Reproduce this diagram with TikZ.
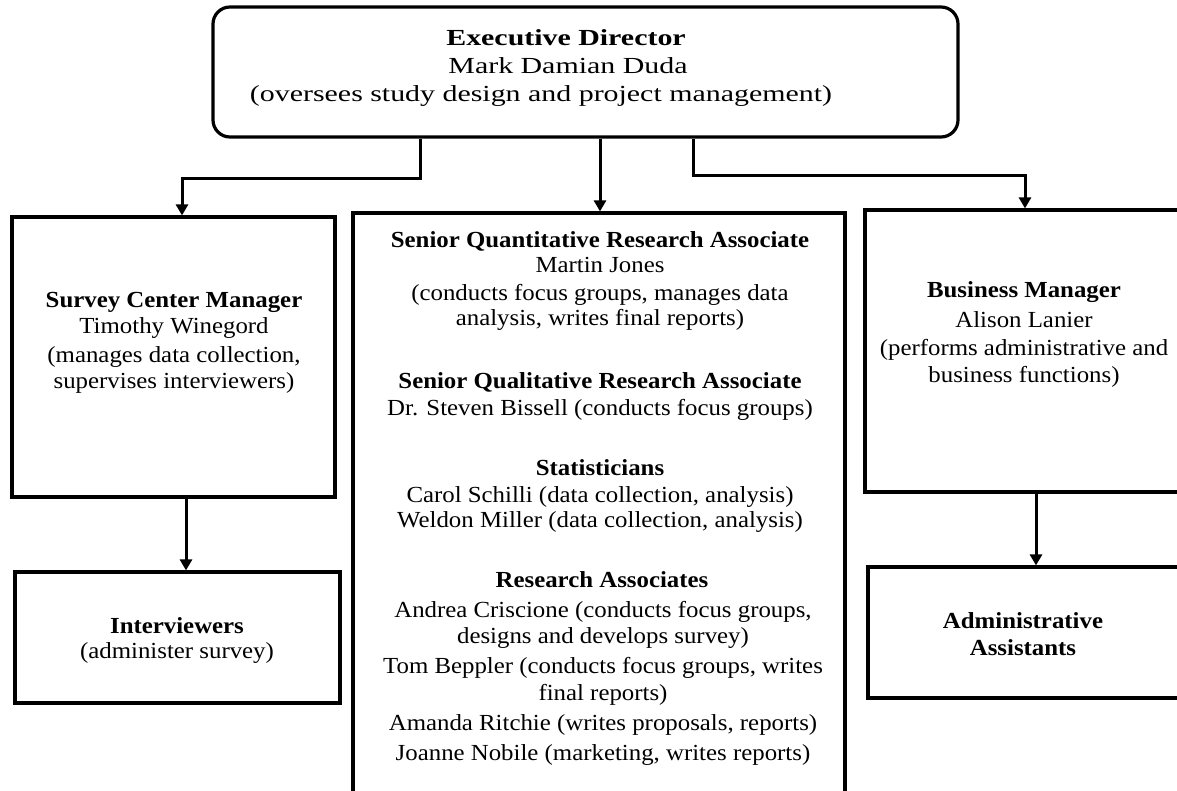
\documentclass[tikz,border=0pt]{standalone}
\usepackage{fontspec}
\setmainfont{Liberation Serif}[FakeStretch=1.08]
\newfontfamily\topfont{Liberation Serif}[FakeStretch=1.3]
\usetikzlibrary{arrows.meta}
\begin{document}
\begin{tikzpicture}[x=1pt,y=-1pt,
  box/.style={draw, line width=3.2pt, inner sep=0pt},
  conn/.style={line width=3pt, -{Triangle[width=12pt,length=11pt]}},
  txt/.style={anchor=base, inner sep=0pt, font=\fontsize{23}{27}\selectfont},
  btxt/.style={anchor=base, inner sep=0pt, font=\fontsize{23}{27}\selectfont\bfseries},
  ttxt/.style={anchor=base, inner sep=0pt, font=\topfont\fontsize{23}{27}\selectfont},
  tbtxt/.style={anchor=base, inner sep=0pt, font=\topfont\fontsize{23}{27}\selectfont\bfseries}
]
\useasboundingbox (0,0) rectangle (1177,790);
\clip (0,0) rectangle (1177,790);
\fill[white] (0,0) rectangle (1177,790);

% boxes
\node[box, rounded corners=17pt, minimum width=745, minimum height=130] (exec) at (585.5,72) {};
\node[box, minimum width=323, minimum height=280] (scm) at (173.5,357) {};
\node[box, minimum width=325, minimum height=131] (int) at (177.5,637.5) {};
\node[box, minimum width=492, minimum height=597] (mid) at (599,511.5) {};
\node[box, minimum width=318, minimum height=282] (bm) at (1024,351) {};
\node[box, minimum width=312, minimum height=131] (adm) at (1024,632.5) {};

% connectors
\coordinate (jl) at (420,178);
\coordinate (jr) at (693,175);
\coordinate (al) at (182,0);
\coordinate (am) at (600,0);
\coordinate (ar) at (1025,0);
\coordinate (ai) at (186,0);
\coordinate (aa) at (1036,0);
\draw[conn] (exec.south -| jl) -- (jl) -| (scm.north -| al);
\draw[conn] (exec.south -| am) -- (mid.north -| am);
\draw[conn] (exec.south -| jr) -- (jr) -| (bm.north -| ar);
\draw[conn] (scm.south -| ai) -- (int.north -| ai);
\draw[conn] (bm.south -| aa) -- (adm.north -| aa);

% top box text
\node[tbtxt] (e1) at (566,45) {Executive Director};
\node[ttxt] (e2) at (568,73) {Mark Damian Duda};
\node[ttxt] (e3) at (541,101) {(oversees study design and project management)};

% left box text
\node[btxt] (s1) at (174,307) {Survey Center Manager};
\node[txt] (s2) at (174,333) {Timothy Winegord};
\node[txt] (s3) at (174,362) {(manages data collection,};
\node[txt] (s4) at (174,388) {supervises interviewers)};

% interviewers
\node[btxt] (i1) at (177,633) {Interviewers};
\node[txt] (i2) at (177,658) {(administer survey)};

% middle box text
\node[btxt] (m1) at (600,247) {Senior Quantitative Research Associate};
\node[txt] (m2) at (600,272) {Martin Jones};
\node[txt] (m3) at (600,300) {(conducts focus groups, manages data};
\node[txt] (m4) at (600,325) {analysis, writes final reports)};
\node[btxt] (m5) at (600,388) {Senior Qualitative Research Associate};
\node[txt] (m6) at (600,415) {Dr. Steven Bissell (conducts focus groups)};
\node[btxt] (m7) at (600,475) {Statisticians};
\node[txt] (m8) at (600,502) {Carol Schilli (data collection, analysis)};
\node[txt] (m9) at (600,527) {Weldon Miller (data collection, analysis)};
\node[btxt] (m10) at (602,587) {Research Associates};
\node[txt] (m11) at (603,617) {Andrea Criscione (conducts focus groups,};
\node[txt] (m12) at (603,643) {designs and develops survey)};
\node[txt] (m13) at (603,673) {Tom Beppler (conducts focus groups, writes};
\node[txt] (m14) at (603,700) {final reports)};
\node[txt] (m15) at (603,730) {Amanda Ritchie (writes proposals, reports)};
\node[txt] (m16) at (603,760) {Joanne Nobile (marketing, writes reports)};

% right box text
\node[btxt] (b1) at (1024,297) {Business Manager};
\node[txt] (b2) at (1024,327) {Alison Lanier};
\node[txt] (b3) at (1024,355) {(performs administrative and};
\node[txt] (b4) at (1024,382) {business functions)};

% admin
\node[btxt] (a1) at (1023,628) {Administrative};
\node[btxt] (a2) at (1023,655) {Assistants};
\end{tikzpicture}
\end{document}
